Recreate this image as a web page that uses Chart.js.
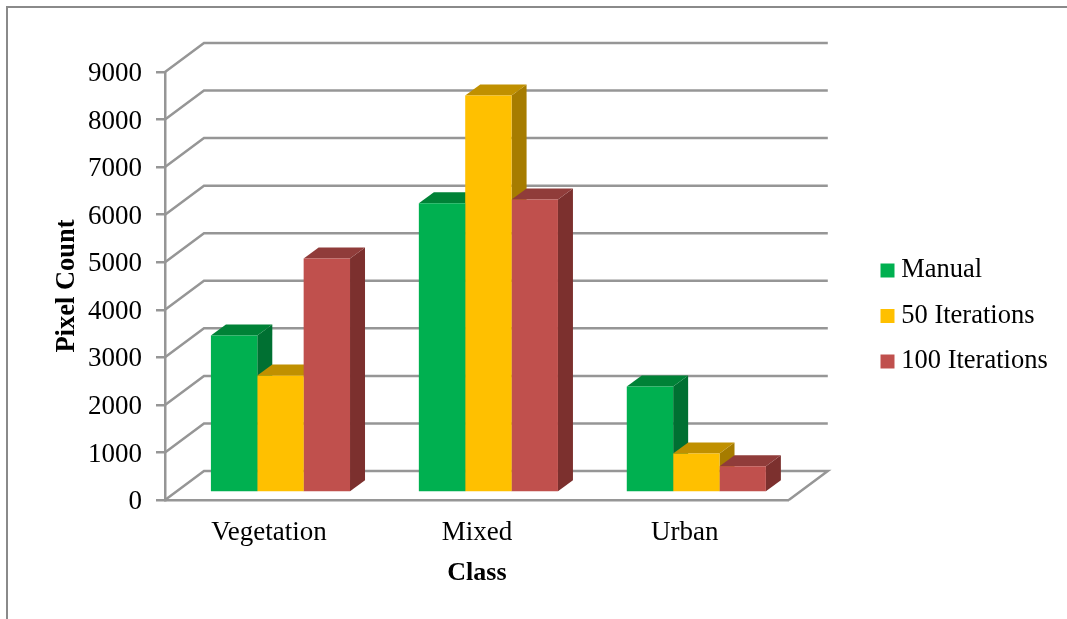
<!DOCTYPE html>
<html>

<head>
<style>
    body { margin: 0; background: #fff; overflow: hidden; }
    #frame { position: absolute; left: 6px; top: 6px; width: 1061px; height: 613px;
             border-left: 2px solid #8a8a8a; border-top: 2px solid #8a8a8a; box-sizing: border-box; }
    #chart { position: absolute; left: 0; top: 0; }
</style>
</head>

<body>
<div id="frame"></div>
<canvas id="chart" width="1067" height="619"></canvas>

<script src="https://cdn.jsdelivr.net/npm/chart.js"></script>
<script type="text/javascript">
    const categories = ['Vegetation', 'Mixed', 'Urban'];
    const manual = [3300, 6080, 2230];
    const iterations50 = [2460, 8350, 820];
    const iterations100 = [4920, 6160, 550];

    const axisColor = '#969696';
    const serif = '"Liberation Serif", serif';

    // shades for the front, top and side of each box
    const green = ['#00b050', '#008237', '#007032'];
    const yellow = ['#ffc000', '#c09000', '#a67c00'];
    const red = ['#c0504d', '#903c3a', '#7c302e'];

    // how far the back wall sits behind the axes
    const wallX = 39, wallY = -29;
    // where the boxes stand on the floor, and how deep they are
    const floorX = 11.5, floorY = -7.5;
    const boxX = 15, boxY = -11;

    function poly(ctx, color, pts) {
        ctx.fillStyle = color;
        ctx.beginPath();
        pts.forEach((p, i) => i ? ctx.lineTo(p[0], p[1]) : ctx.moveTo(p[0], p[1]));
        ctx.closePath();
        ctx.fill();
    }

    const wallPlugin = {
        id: 'wall',
        afterLayout(chart) {
            // legend sits clear of the back wall
            chart.legend.left = 868;
            chart.legend.right = 1067;
            chart.legend.top = 52;
            chart.legend.bottom = 580;
        },
        beforeDatasetsDraw(chart) {
            const ctx = chart.ctx;
            const y = chart.scales.y, area = chart.chartArea;
            ctx.save();
            ctx.strokeStyle = axisColor;
            ctx.lineWidth = 2.5;
            ctx.lineJoin = 'miter';
            y.ticks.forEach(t => {
                const py = y.getPixelForValue(t.value);
                ctx.beginPath();
                ctx.moveTo(area.left, py);
                ctx.lineTo(area.left + wallX, py + wallY);
                ctx.lineTo(area.right + wallX, py + wallY);
                if (t.value === 0) ctx.lineTo(area.right, py);
                ctx.stroke();
            });
            ctx.restore();

            // the library paints the front faces, shifted onto the floor
            ctx.save();
            ctx.translate(floorX, floorY);
            categories.forEach((c, index) => {
                chart.data.datasets.forEach((ds, d) => {
                    const bar = chart.getDatasetMeta(d).data[index];
                    const l = bar.x - bar.width / 2, r = bar.x + bar.width / 2;
                    poly(ctx, ds.shades[2], [[r, bar.y], [r + boxX, bar.y + boxY], [r + boxX, bar.base + boxY], [r, bar.base]]);
                    poly(ctx, ds.shades[1], [[l, bar.y], [l + boxX, bar.y + boxY], [r + boxX, bar.y + boxY], [r, bar.y]]);
                });
            });
        },
        afterDatasetsDraw(chart) {
            chart.ctx.restore();
        }
    };

    new Chart(document.getElementById('chart'), {
        type: 'bar',
        data: {
            labels: categories,
            datasets: [
                { label: 'Manual', data: manual, backgroundColor: green[0], shades: green },
                { label: '50 Iterations', data: iterations50, backgroundColor: yellow[0], shades: yellow },
                { label: '100 Iterations', data: iterations100, backgroundColor: red[0], shades: red }
            ]
        },
        options: {
            responsive: false,
            animation: false,
            clip: false,
            categoryPercentage: 0.669,
            barPercentage: 1,
            layout: { padding: { left: 47, top: 72, right: 88.5, bottom: 26 } },
            scales: {
                x: {
                    grid: { display: false },
                    border: { color: axisColor, width: 2.5 },
                    ticks: { color: '#000', padding: 9, font: { family: serif, size: 27 } },
                    title: { display: true, text: 'Class', color: '#000', font: { family: serif, size: 26, weight: 'bold' } },
                    afterFit(scale) { scale.height = 93; }
                },
                y: {
                    min: 0,
                    max: 9000,
                    grid: { drawOnChartArea: false, color: axisColor, lineWidth: 2.5, tickLength: 9 },
                    border: { color: axisColor, width: 2.5 },
                    ticks: {
                        stepSize: 1000,
                        color: '#000',
                        padding: 14,
                        labelOffset: 2,
                        font: { family: serif, size: 27 },
                        callback: value => String(value)
                    },
                    title: { display: true, text: 'Pixel Count', color: '#000', font: { family: serif, size: 26.5, weight: 'bold' } },
                    afterFit(scale) { scale.width = 118; }
                }
            },
            plugins: {
                tooltip: { enabled: false },
                legend: {
                    position: 'right',
                    labels: {
                        color: '#000',
                        boxWidth: 1,
                        boxHeight: 1,
                        padding: 19,
                        font: { family: serif, size: 26.5 },
                        // a thick outline gives a small swatch with a tight gap before the text
                        generateLabels(chart) {
                            return Chart.defaults.plugins.legend.labels.generateLabels(chart).map(item => {
                                item.strokeStyle = item.fillStyle;
                                item.lineWidth = 13;
                                return item;
                            });
                        }
                    }
                }
            }
        },
        plugins: [wallPlugin]
    });
</script>
</body>
</html>
